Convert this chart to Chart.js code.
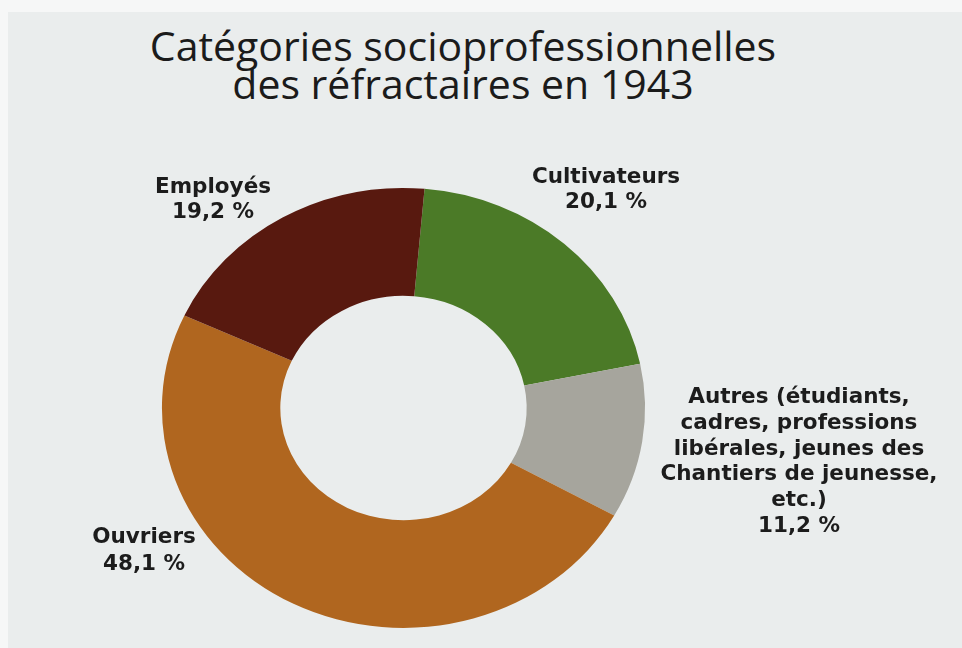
<!DOCTYPE html>
<html lang="fr">
<head>
<meta charset="utf-8">
<script src="https://cdn.jsdelivr.net/npm/chart.js@4/dist/chart.umd.min.js"></script>
<style>
  html, body { margin: 0; padding: 0; }
  body { width: 962px; height: 648px; background: #f6f7f7; position: relative; overflow: hidden; }
  #page { position: absolute; left: 8px; top: 12px; right: 0; bottom: 0; background: #eaeded; }
  #title {
    position: absolute; left: 0; top: 26px; width: 926px; text-align: center;
    font-family: "Open Sans", sans-serif; font-weight: 500; font-size: 41px; line-height: 38px; color: #1b1b1b;
  }
  #wrap { position: absolute; left: 0; top: 0; width: 962px; height: 648px; }
</style>
</head>
<body>
<div id="page"></div>
<div id="title">Catégories socioprofessionnelles<br>des réfractaires en 1943</div>
<div id="wrap"><canvas id="chart"></canvas></div>
<script>
// données (en %)
const categories = ["Cultivateurs", "Autres", "Ouvriers", "Employés"];
const shares = [20.1, 11.2, 48.1, 19.2];
const sliceColors = ["#4b7a27", "#a6a59d", "#b0661f", "#58190f"];

// texte des étiquettes (la ligne du pourcentage est ajoutée depuis shares)
const labelLines = [
    ["Cultivateurs"],
    ["Autres (étudiants,", "cadres, professions", "libérales, jeunes des", "Chantiers de jeunesse,", "etc.)"],
    ["Ouvriers"],
    ["Employés"]
];

// placement des étiquettes : centre x, ligne de base de la 1re ligne, interligne
const labelPos = [
    {x: 606, y: 183, lh: 25},
    {x: 799, y: 403, lh: 25.8},
    {x: 144, y: 543, lh: 27},
    {x: 213, y: 193, lh: 25}
];

const fmt = v => v.toFixed(1).replace(".", ",") + " %";

// l'anneau est un peu plus large que haut : on étire les arcs en x
const stretchX = 1.098;
const stretchPlugin = {
    id: "stretch",
    beforeDatasetsDraw(chart) {
        const arc = chart.getDatasetMeta(0).data[0];
        const ctx = chart.ctx;
        ctx.save();
        ctx.translate(arc.x, arc.y);
        ctx.scale(stretchX, 1);
        ctx.translate(-arc.x, -arc.y);
    },
    afterDatasetsDraw(chart) {
        chart.ctx.restore();
    }
};

const labelPlugin = {
    id: "sliceLabels",
    afterDraw(chart) {
        const ctx = chart.ctx;
        ctx.save();
        ctx.fillStyle = "#1c1c1c";
        ctx.textAlign = "center";
        ctx.textBaseline = "alphabetic";
        ctx.font = "bold 21.5px 'DejaVu Sans'";
        labelLines.forEach((lines, i) => {
            const p = labelPos[i];
            const all = lines.concat([fmt(shares[i])]);
            all.forEach((t, k) => ctx.fillText(t, p.x, p.y + k * p.lh));
        });
        ctx.restore();
    }
};

new Chart(document.getElementById("chart"), {
    type: "doughnut",
    data: {
        labels: categories,
        datasets: [{
            data: shares,
            backgroundColor: sliceColors,
            borderWidth: 0,
            hoverOffset: 0
        }]
    },
    options: {
        responsive: true,
        maintainAspectRatio: false,
        animation: false,
        cutout: "51%",
        rotation: 5,
        layout: {padding: {left: 183.5, right: 338.5, top: 188, bottom: 20}},
        plugins: {legend: {display: false}, tooltip: {enabled: false}}
    },
    plugins: [stretchPlugin, labelPlugin]
});
</script>
</body>
</html>
